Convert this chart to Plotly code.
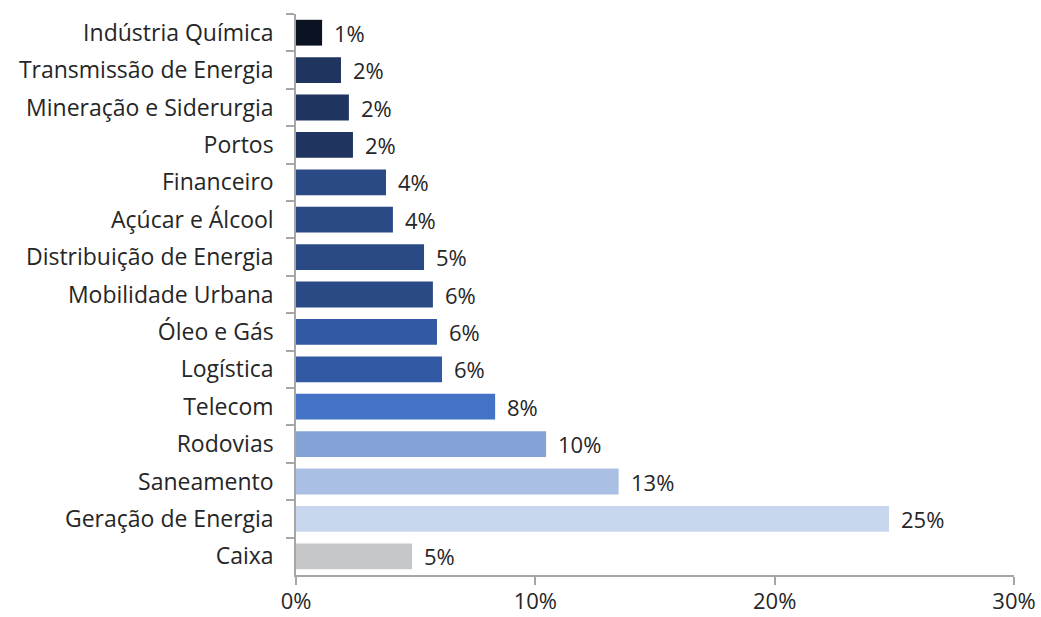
import plotly.graph_objects as go

# Sector allocation (share of portfolio), listed top to bottom
sectors = [
    "Indústria Química",
    "Transmissão de Energia",
    "Mineração e Siderurgia",
    "Portos",
    "Financeiro",
    "Açúcar e Álcool",
    "Distribuição de Energia",
    "Mobilidade Urbana",
    "Óleo e Gás",
    "Logística",
    "Telecom",
    "Rodovias",
    "Saneamento",
    "Geração de Energia",
    "Caixa",
]
shares = [0.0109, 0.0188, 0.0221, 0.0238, 0.0376, 0.0405, 0.0535, 0.0572,
          0.0589, 0.0610, 0.0832, 0.1045, 0.1348, 0.2478, 0.0485]
bar_colors = [
    "#0b1221", "#1f3560", "#1f3560", "#1f3560",
    "#2a4a86", "#2a4a86", "#2a4a86", "#2a4a86",
    "#3259a3", "#3259a3", "#4472c4", "#84a2d6",
    "#a9bfe3", "#c8d7ee", "#c6c7c9",
]
x_ticks = [0, 0.10, 0.20, 0.30]

FONT = "Open Sans"
FONT_SIZE = 23
TEXT_COLOR = "#262626"
AXIS_COLOR = "#a6a6a6"

fig = go.Figure(
    go.Bar(
        x=shares,
        y=sectors,
        orientation="h",
        marker=dict(color=bar_colors, line=dict(width=0)),
        hoverinfo="skip",
    )
)

# Value labels to the right of each bar
for s, v in zip(sectors, shares):
    fig.add_annotation(
        x=v, y=s, xref="x", yref="y",
        text=f"{v:.0%}", showarrow=False,
        xanchor="left", yanchor="middle", xshift=10,
        font=dict(family=FONT, size=FONT_SIZE - 1, color=TEXT_COLOR),
    )

fig.update_layout(
    width=1041, height=617,
    margin=dict(l=296, r=27, t=14, b=42, autoexpand=False),
    paper_bgcolor="white", plot_bgcolor="white",
    bargap=0.31,
    showlegend=False,
    font=dict(family=FONT, size=FONT_SIZE, color=TEXT_COLOR),
)
fig.update_xaxes(
    range=[0, 0.30],
    tickvals=x_ticks,
    tickformat=".0%",
    automargin=False,
    showgrid=False, zeroline=False,
    showline=True, linecolor=AXIS_COLOR, linewidth=1.5,
    ticks="outside", ticklen=8, tickcolor=AXIS_COLOR, tickwidth=1.5,
    ticklabelstandoff=-2,
    tickfont=dict(family=FONT, size=FONT_SIZE - 1, color=TEXT_COLOR),
)
fig.update_yaxes(
    autorange="reversed",
    automargin=False,
    showgrid=False, zeroline=False,
    showline=True, linecolor=AXIS_COLOR, linewidth=1.5,
    ticks="outside", tickson="boundaries", ticklen=8,
    tickcolor=AXIS_COLOR, tickwidth=1.5,
    ticklabelstandoff=16,
    tickfont=dict(family=FONT, size=FONT_SIZE, color=TEXT_COLOR),
)

fig.write_html("out.html")
